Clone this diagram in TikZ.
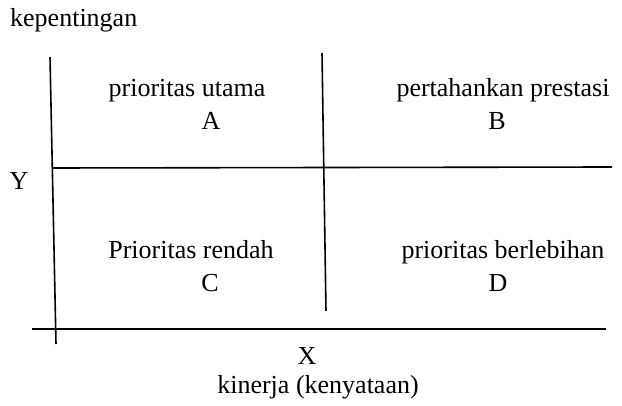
\documentclass[tikz,border=0pt]{standalone}
\usepackage{fontspec}
\setmainfont{Liberation Serif}
\usetikzlibrary{positioning}
\tikzset{
  lbl/.style={font=\fontsize{26}{30}\selectfont, inner sep=0pt, anchor=base},
  axisline/.style={line width=1.6pt}
}

\begin{document}
\begin{tikzpicture}[x=1pt,y=-1pt]
    \useasboundingbox (0,0) rectangle (622,406);

    % axis titles
    \node[lbl,anchor=base west] (kepentingan) at (10,27) {kepentingan};
    \node[lbl] (ylab) at (19,190) {Y};
    \node[lbl] (xlab) at (307,365) {X};
    \node[lbl] (kinerja) at (318,394) {kinerja (kenyataan)};

    % quadrants
    \node[lbl] (qa) at (187,97) {prioritas utama};
    \node[lbl] (qaletter) at (211,130) {A};
    \node[lbl] (qb) at (503,97) {pertahankan prestasi};
    \node[lbl] (qbletter) at (497,130) {B};
    \node[lbl] (qc) at (191,259) {Prioritas rendah};
    \node[lbl] (qcletter) at (210,292) {C};
    \node[lbl] (qd) at (503,259) {prioritas berlebihan};
    \node[lbl] (qdletter) at (498,292) {D};

    % lines
    \coordinate (ytop) at (50,57);  \coordinate (ybot) at (56,344);
    \coordinate (mtop) at (322,53); \coordinate (mbot) at (326,311);
    \coordinate (hleft) at (53,168); \coordinate (hright) at (612,167);
    \coordinate (xleft) at (32,329); \coordinate (xright) at (606,329);
    \draw[axisline] (ytop) -- (ybot);
    \draw[axisline] (mtop) -- (mbot);
    \draw[axisline] (hleft) -- (hright);
    \draw[axisline] (xleft) -- (xright);
\end{tikzpicture}
\end{document}
